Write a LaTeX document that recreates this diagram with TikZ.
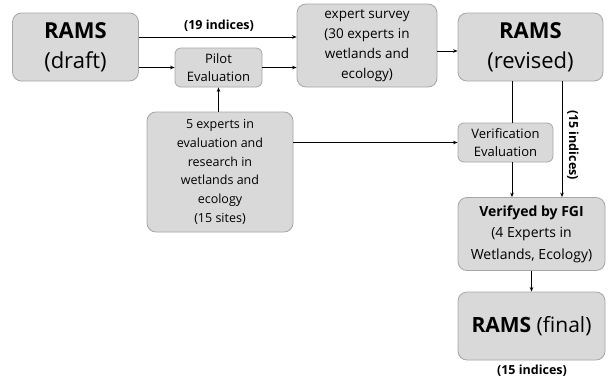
\documentclass[tikz,border=0pt]{standalone}
\usepackage{fontspec}
\setmainfont{Open Sans}
\usetikzlibrary{arrows.meta,calc}
\definecolor{boxfill}{HTML}{D9D9D9}
\definecolor{boxline}{HTML}{A6A6A6}
\tikzset{
  box/.style={draw=boxline, fill=boxfill, line width=0.8pt, rounded corners=9pt, align=center, inner sep=2pt},
  conn/.style={line width=0.8pt, draw=black},
  arr/.style={conn, -{Stealth[length=4.5pt,width=3.5pt]}},
  lbl/.style={font=\bfseries\fontsize{12.5}{14}\selectfont},
}
\begin{document}
\begin{tikzpicture}[x=1pt,y=-1pt]
\useasboundingbox (0,0) rectangle (611,380);
\node[box, minimum width=126pt, minimum height=68pt, font=\fontsize{22}{30}\selectfont] (draft) at (75.5,47) {\textbf{RAMS}\\(draft)};
\node[box, minimum width=87pt, minimum height=39pt, rounded corners=6pt, font=\fontsize{13}{17.5}\selectfont] (pilot) at (218.5,67.5) {Pilot\\Evaluation};
\node[box, minimum width=140pt, minimum height=83pt, font=\fontsize{13.5}{20}\selectfont] (survey) at (367,45.5) {expert survey\\(30 experts in\\wetlands and\\ecology)};
\node[box, minimum width=145pt, minimum height=68pt, font=\fontsize{22}{30}\selectfont] (revised) at (530.5,47) {\textbf{RAMS}\\(revised)};
\node[box, minimum width=146pt, minimum height=120pt, font=\fontsize{12.5}{18.7}\selectfont] (experts) at (220,172) {5 experts in\\evaluation and\\research in\\wetlands and\\ecology\\(15 sites)};
\node[box, minimum width=95pt, minimum height=39pt, rounded corners=6pt, font=\fontsize{13}{17.5}\selectfont] (verif) at (505.5,142.5) {Verification\\Evaluation};
\node[box, minimum width=147pt, minimum height=73pt, font=\fontsize{14}{21.5}\selectfont] (fgi) at (531.5,234) {\textbf{Verifyed by FGI}\\(4 Experts in\\Wetlands, Ecology)};
\node[box, minimum width=147pt, minimum height=68pt, font=\fontsize{21}{25}\selectfont] (final) at (531.5,326) {\textbf{RAMS} (final)};
\node[lbl] (lab19) at (219,25.5) {(19 indices)};
\node[lbl] (lab15b) at (532,371) {(15 indices)};
\node[lbl, rotate=-90] (lab15a) at (573,145) {(15 indices)};
\coordinate (y37) at (0,37);
\coordinate (y51) at (0,51);
\coordinate (x512) at (512,0);
\coordinate (x562) at (562,0);
\draw[arr] (draft.east |- y37) -- (survey.west |- y37);
\draw[arr] (draft.east |- pilot.west) -- (pilot.west);
\draw[arr] (pilot.east) -- (survey.west |- pilot.east);
\draw[arr] (pilot.south |- experts.north) -- (pilot.south);
\draw[arr] (survey.east |- y51) -- (revised.west |- y51);
\draw[arr] (experts.east |- verif.west) -- (verif.west);
\draw[conn] (revised.south -| x512) -- (verif.north -| x512);
\draw[arr] (verif.south -| x512) -- (fgi.north -| x512);
\draw[arr] (revised.south -| x562) -- (fgi.north -| x562);
\draw[arr] (fgi.south) -- (final.north);
\end{tikzpicture}
\end{document}
